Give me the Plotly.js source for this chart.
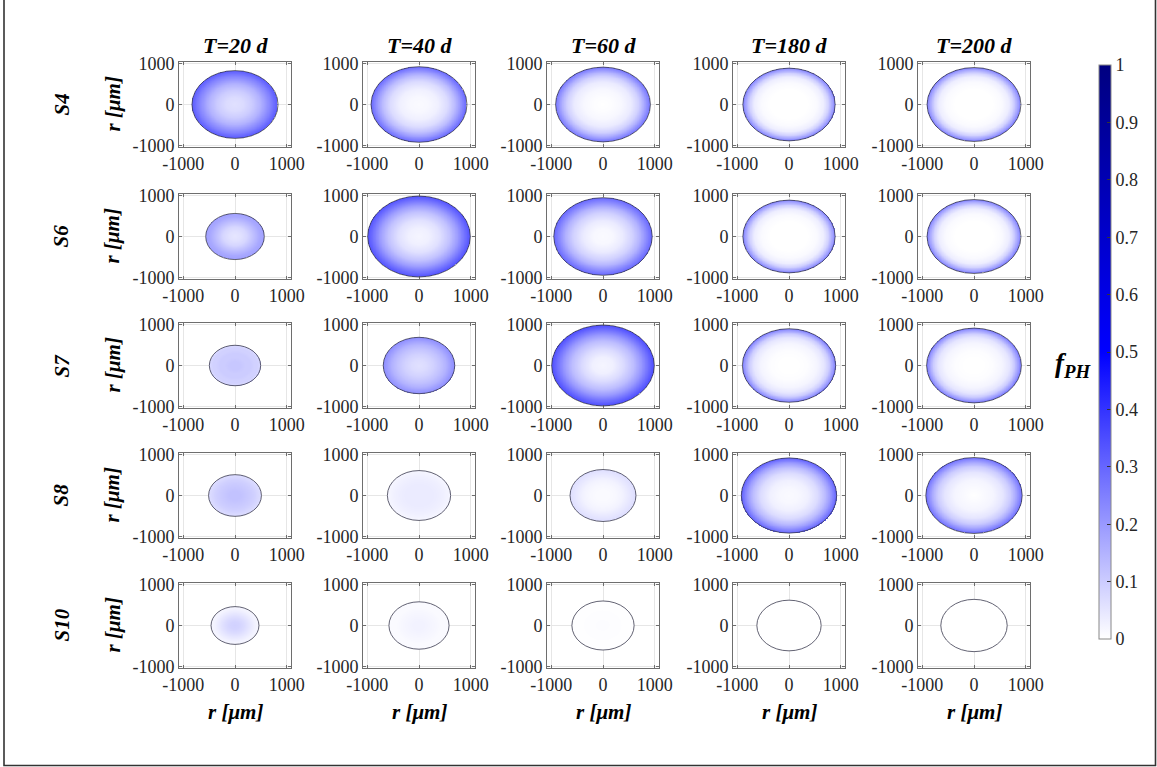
<!DOCTYPE html>
<html>
<head>
<meta charset="utf-8">
<script src="https://cdn.plot.ly/plotly-3.0.1.min.js"></script>
<style>
  html, body { margin: 0; padding: 0; background: #ffffff; }
  #chart { width: 1157px; height: 767px; }
</style>
</head>
<body>
<div id="chart"></div>
<script>
// Column headers (time points) and row headers (samples)
const timeLabels = ['T=20 d', 'T=40 d', 'T=60 d', 'T=180 d', 'T=200 d'];
const sampleLabels = ['S4', 'S6', 'S7', 'S8', 'S10'];

// Radial positions (fraction of spheroid radius) where f_PH is sampled
const radialFrac = [0, 0.2, 0.4, 0.6, 0.75, 0.85, 0.95, 1.0];

// Spheroid radius [um] per time point, one array per sample
const radiusS4  = [830, 925, 915, 890, 905];
const radiusS6  = [565, 990, 950, 890, 905];
const radiusS7  = [495, 690, 990, 900, 915];
const radiusS8  = [510, 610, 636, 920, 930];
const radiusS10 = [462, 580, 600, 620, 640];

// f_PH radial profiles per time point, one array per sample
const fS4 = [
  [0.06, 0.07, 0.10, 0.15, 0.21, 0.25, 0.30, 0.32],
  [0.01, 0.015, 0.03, 0.07, 0.13, 0.19, 0.26, 0.30],
  [0.00, 0.005, 0.015, 0.04, 0.09, 0.15, 0.23, 0.27],
  [0.00, 0.00, 0.00, 0.01, 0.035, 0.09, 0.19, 0.26],
  [0.00, 0.00, 0.00, 0.01, 0.035, 0.09, 0.19, 0.26]
];
const fS6 = [
  [0.05, 0.06, 0.08, 0.12, 0.15, 0.17, 0.18, 0.19],
  [0.02, 0.03, 0.06, 0.12, 0.19, 0.25, 0.31, 0.34],
  [0.01, 0.015, 0.04, 0.09, 0.15, 0.21, 0.27, 0.30],
  [0.00, 0.00, 0.00, 0.01, 0.035, 0.09, 0.19, 0.26],
  [0.00, 0.00, 0.00, 0.01, 0.035, 0.09, 0.19, 0.26]
];
const fS7 = [
  [0.11, 0.11, 0.10, 0.10, 0.09, 0.09, 0.08, 0.08],
  [0.06, 0.07, 0.09, 0.12, 0.15, 0.18, 0.21, 0.23],
  [0.02, 0.03, 0.07, 0.13, 0.20, 0.26, 0.32, 0.35],
  [0.00, 0.00, 0.005, 0.02, 0.05, 0.10, 0.20, 0.27],
  [0.00, 0.00, 0.005, 0.02, 0.05, 0.10, 0.20, 0.27]
];
const fS8 = [
  [0.12, 0.12, 0.11, 0.10, 0.09, 0.08, 0.07, 0.07],
  [0.04, 0.04, 0.04, 0.035, 0.03, 0.025, 0.02, 0.02],
  [0.01, 0.01, 0.015, 0.025, 0.04, 0.05, 0.06, 0.065],
  [0.01, 0.015, 0.03, 0.07, 0.13, 0.19, 0.27, 0.32],
  [0.00, 0.01, 0.02, 0.05, 0.10, 0.16, 0.24, 0.29]
];
const fS10 = [
  [0.09, 0.085, 0.07, 0.05, 0.035, 0.025, 0.02, 0.02],
  [0.025, 0.025, 0.02, 0.015, 0.01, 0.01, 0.01, 0.01],
  [0.005, 0.005, 0.004, 0.003, 0.002, 0.002, 0.001, 0.001],
  [0, 0, 0, 0, 0, 0, 0, 0],
  [0, 0, 0, 0, 0, 0, 0, 0]
];

const colorbarTicks = [0, 0.1, 0.2, 0.3, 0.4, 0.5, 0.6, 0.7, 0.8, 0.9, 1];
const axisTicks = [-1000, 0, 1000];

const radii = [radiusS4, radiusS6, radiusS7, radiusS8, radiusS10];
const profiles = [fS4, fS6, fS7, fS8, fS10];

// ---- page geometry (pixels) ----
const W = 1157, H = 767;
const colLeft = [179, 363, 547, 733, 918];
const boxW = 112;
const rowTop = [62, 194, 323, 453, 583];
const boxH = 85;
const px = v => v / W;
const py = v => 1 - v / H;

const SERIF = '"Liberation Serif", "Times New Roman", serif';
const INK = '#262626';

// linear lookup of the sampled profile at a radial fraction
function profileAt(prof, s) {
  for (let i = 1; i < radialFrac.length; i++) {
    if (s <= radialFrac[i]) {
      const t = (s - radialFrac[i - 1]) / (radialFrac[i] - radialFrac[i - 1]);
      return prof[i - 1] + t * (prof[i] - prof[i - 1]);
    }
  }
  return prof[prof.length - 1];
}

// cross-section of a spheroid: f_PH field on a square grid covering the disk
function diskField(R, prof) {
  const n = 241;
  const g = [];
  for (let i = 0; i < n; i++) g.push(-R + 2 * R * i / (n - 1));
  const z = g.map(y => g.map(x => {
    const s = Math.sqrt(x * x + y * y) / R;
    return s > 1 ? null : profileAt(prof, s);
  }));
  return { g, z };
}

const traces = [];
const layout = {
  width: W, height: H,
  margin: { l: 0, r: 0, t: 0, b: 0 },
  paper_bgcolor: '#ffffff',
  plot_bgcolor: '#ffffff',
  showlegend: false,
  font: { family: SERIF, color: INK, size: 18 },
  coloraxis: {
    cmin: 0, cmax: 1,
    colorscale: [[0, '#ffffff'], [0.5, '#0000ff'], [1, '#000080']],
    colorbar: {
      x: px(1099), xanchor: 'left',
      y: py(65), yanchor: 'top',
      len: 574, lenmode: 'pixels',
      thickness: 12, thicknessmode: 'pixels',
      xpad: 0, ypad: 0,
      outlinewidth: 1, outlinecolor: '#888888',
      tickmode: 'array',
      tickvals: colorbarTicks,
      ticktext: colorbarTicks.map(String),
      ticks: 'inside', ticklen: 4, tickcolor: '#333333',
      tickfont: { family: SERIF, size: 18, color: INK }
    }
  },
  annotations: [],
  shapes: []
};

for (let r = 0; r < 5; r++) {
  for (let c = 0; c < 5; c++) {
    const k = r * 5 + c + 1;
    const sx = k === 1 ? '' : String(k);
    const R = radii[r][c];
    const f = diskField(R, profiles[r][c]);

    traces.push({
      type: 'heatmap',
      x: f.g, y: f.g, z: f.z,
      coloraxis: 'coloraxis',
      zsmooth: false,
      hoverinfo: 'skip',
      xaxis: 'x' + sx, yaxis: 'y' + sx
    });

    const axCommon = {
      tickmode: 'array',
      tickvals: axisTicks,
      ticktext: axisTicks.map(String),
      showgrid: true, gridcolor: '#e6e6e6', gridwidth: 1,
      zeroline: false,
      showline: true, linecolor: '#6e6e6e', linewidth: 1, mirror: 'ticks',
      ticks: 'inside', ticklen: 3, tickcolor: '#6e6e6e',
      tickfont: { family: SERIF, size: 18, color: INK },
      fixedrange: true
    };
    layout['xaxis' + sx] = Object.assign({}, axCommon, {
      domain: [px(colLeft[c]), px(colLeft[c] + boxW)],
      range: [-1080, 1080],
      anchor: 'y' + sx
    });
    layout['yaxis' + sx] = Object.assign({}, axCommon, {
      domain: [py(rowTop[r] + boxH), py(rowTop[r])],
      range: [-1040, 1040],
      anchor: 'x' + sx
    });

    // spheroid boundary
    layout.shapes.push({
      type: 'circle', xref: 'x' + sx, yref: 'y' + sx,
      x0: -R, x1: R, y0: -R, y1: R,
      line: { color: 'rgba(60,60,80,0.8)', width: 1 },
      layer: 'above'
    });
  }
}

const boldItalic = (size) => ({ family: SERIF, size: size, color: '#000000', weight: 'bold', style: 'italic' });

// column headers
timeLabels.forEach((t, c) => {
  layout.annotations.push({
    xref: 'paper', yref: 'paper',
    x: px(colLeft[c] + boxW / 2), y: py(46),
    xanchor: 'center', yanchor: 'middle',
    text: t, showarrow: false, font: boldItalic(22)
  });
});

// row headers and y-axis titles
sampleLabels.forEach((s, r) => {
  const yc = py(rowTop[r] + boxH / 2);
  layout.annotations.push({
    xref: 'paper', yref: 'paper', x: px(61), y: yc,
    xanchor: 'center', yanchor: 'middle', textangle: -90,
    text: s, showarrow: false, font: boldItalic(21)
  });
  layout.annotations.push({
    xref: 'paper', yref: 'paper', x: px(112), y: yc,
    xanchor: 'center', yanchor: 'middle', textangle: -90,
    text: 'r [μm]', showarrow: false, font: boldItalic(21)
  });
});

// x-axis titles under the bottom row
colLeft.forEach(l => {
  layout.annotations.push({
    xref: 'paper', yref: 'paper', x: px(l + boxW / 2), y: py(712),
    xanchor: 'center', yanchor: 'middle',
    text: 'r [μm]', showarrow: false, font: boldItalic(21)
  });
});

// colour bar label
layout.annotations.push({
  xref: 'paper', yref: 'paper', x: px(1073), y: py(365),
  xanchor: 'center', yanchor: 'middle',
  text: 'f<sub>PH</sub>', showarrow: false, font: boldItalic(27)
});

// figure frame
layout.shapes.push({
  type: 'rect', xref: 'paper', yref: 'paper',
  x0: px(4), x1: px(1155.5), y0: py(765.5), y1: py(-5),
  line: { color: '#333333', width: 1.6 }, fillcolor: 'rgba(0,0,0,0)', layer: 'above'
});

Plotly.newPlot('chart', traces, layout, { staticPlot: true, displayModeBar: false });
</script>
</body>
</html>
